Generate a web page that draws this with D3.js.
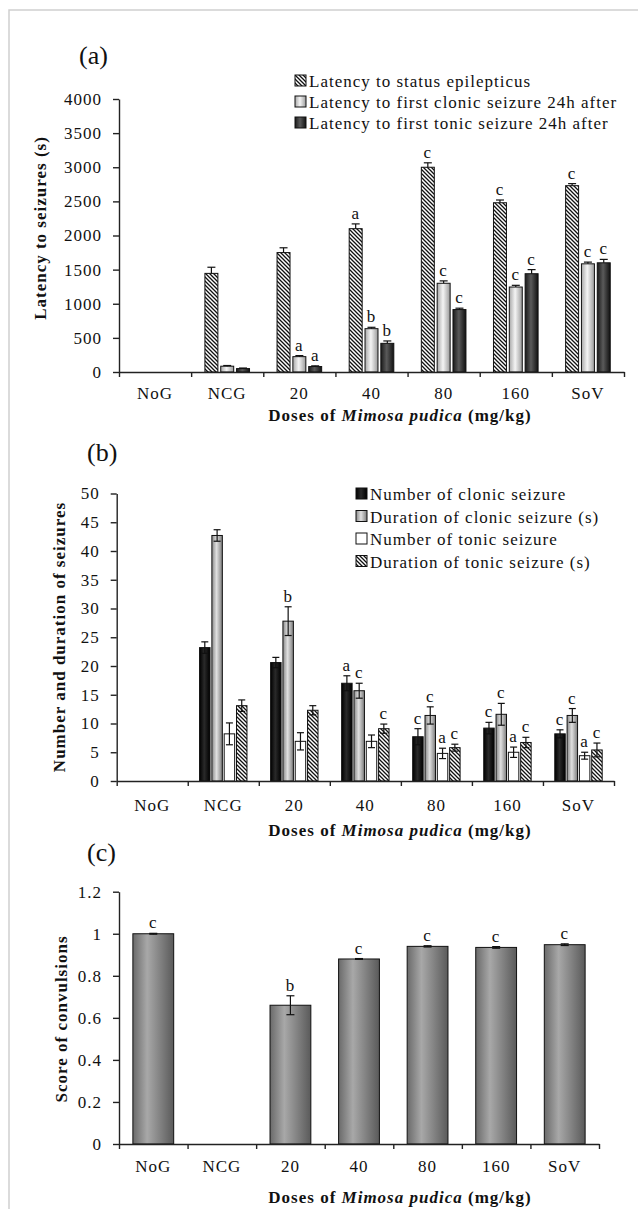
<!DOCTYPE html>
<html>
<head>
<meta charset="utf-8">
<script src="https://cdn.jsdelivr.net/npm/d3@7"></script>
<style>
  body { margin: 0; background: #fff; }
  svg text { font-family: "Liberation Serif", "Times New Roman", serif; fill: #111; }
</style>
</head>
<body>
<div id="chart"></div>
<script>
// catégories (doses)
const categories = ["NoG", "NCG", "20", "40", "80", "160", "SoV"];

// (a) latences (s)
const latencyStatus      = [null, 1445, 1750, 2100, 3000, 2480, 2730];
const latencyStatusErr   = [null, 90, 70, 70, 65, 40, 30];
const latencyStatusSig   = ["", "", "", "a", "c", "c", "c"];
const latencyClonic      = [null, 85, 225, 635, 1300, 1245, 1585];
const latencyClonicErr   = [null, 10, 15, 20, 35, 25, 25];
const latencyClonicSig   = ["", "", "a", "b", "c", "c", "c"];
const latencyTonic       = [null, 50, 80, 420, 915, 1440, 1600];
const latencyTonicErr    = [null, 8, 10, 35, 20, 60, 50];
const latencyTonicSig    = ["", "", "a", "b", "c", "c", "c"];
const latencyTicks = [0, 500, 1000, 1500, 2000, 2500, 3000, 3500, 4000];

// (b) nombre et durée des crises
const clonicNumber       = [null, 23.2, 20.6, 17.0, 7.7, 9.2, 8.2];
const clonicNumberErr    = [null, 1.0, 0.9, 1.3, 1.4, 1.0, 0.7];
const clonicNumberSig    = ["", "", "", "a", "c", "c", "c"];
const clonicDuration     = [null, 42.7, 27.8, 15.7, 11.4, 11.6, 11.4];
const clonicDurationErr  = [null, 1.0, 2.5, 1.3, 1.5, 1.9, 1.2];
const clonicDurationSig  = ["", "", "b", "c", "c", "c", "c"];
const tonicNumber        = [null, 8.2, 6.9, 6.9, 4.8, 5.0, 4.4];
const tonicNumberErr     = [null, 1.9, 1.5, 1.1, 0.9, 0.9, 0.6];
const tonicNumberSig     = ["", "", "", "", "a", "a", "a"];
const tonicDuration      = [null, 13.1, 12.3, 9.1, 5.8, 6.7, 5.4];
const tonicDurationErr   = [null, 1.0, 0.8, 0.8, 0.6, 0.9, 1.2];
const tonicDurationSig   = ["", "", "", "c", "c", "c", "c"];
const seizureTicks = [0, 5, 10, 15, 20, 25, 30, 35, 40, 45, 50];

// (c) score des convulsions
const convulsionScore    = [1.0, null, 0.66, 0.88, 0.94, 0.935, 0.948];
const convulsionScoreErr = [0.002, null, 0.045, 0.002, 0.003, 0.004, 0.004];
const convulsionScoreSig = ["c", "", "b", "c", "c", "c", "c"];
const scoreTicks = [0, 0.2, 0.4, 0.6, 0.8, 1, 1.2];

const width = 638;
const height = 1209;

const svg = d3.select("#chart").append("svg")
  .attr("width", width)
  .attr("height", height);

svg.append("rect").attr("width", width).attr("height", height).attr("fill", "#fff");

// cadre gris
svg.append("path")
  .attr("d", `M9,${height} V10 H${width}`)
  .attr("fill", "none")
  .attr("stroke", "#cfcfcf")
  .attr("stroke-width", 1.5);

const defs = svg.append("defs");

// hachures
const hatch = defs.append("pattern")
  .attr("id", "hatch")
  .attr("patternUnits", "userSpaceOnUse")
  .attr("width", 4).attr("height", 4);
hatch.append("rect").attr("width", 4).attr("height", 4).attr("fill", "#fff");
hatch.append("path")
  .attr("d", "M0,0 L4,4 M-1,3 L1,5 M3,-1 L5,1")
  .attr("stroke", "#111")
  .attr("stroke-width", 1.3);

function gradient(id, stops) {
  const lg = defs.append("linearGradient").attr("id", id)
    .attr("x1", 0).attr("x2", 1).attr("y1", 0).attr("y2", 0);
  stops.forEach(([o, c]) => lg.append("stop").attr("offset", o).attr("stop-color", c));
}
gradient("lightGrad", [[0, "#a8a8a8"], [0.45, "#f4f4f4"], [1, "#9a9a9a"]]);
gradient("darkGrad", [[0, "#1a1a1a"], [0.45, "#5a5a5a"], [1, "#111"]]);
gradient("blackGrad", [[0, "#000"], [0.45, "#2a2a2a"], [1, "#000"]]);
gradient("grayGrad", [[0, "#8a8a8a"], [0.45, "#e0e0e0"], [1, "#7c7c7c"]]);
gradient("scoreGrad", [[0, "#6a6a6a"], [0.35, "#a8a8a8"], [1, "#5a5a5a"]]);

const textStyle = sel => sel.attr("font-size", 17).attr("letter-spacing", "1px");

function drawPanel(p) {
  const g = svg.append("g");

  const x = d3.scaleBand().domain(categories).range([p.x0, p.x1]);
  const y = d3.scaleLinear().domain([0, p.yMax]).range([p.y0, p.yTop]);
  const xs = d3.scaleBand()
    .domain(d3.range(p.series.length))
    .range([0, x.bandwidth()])
    .paddingInner(p.pi)
    .paddingOuter(p.po);

  p.series.forEach((s, si) => {
    const data = categories
      .map((c, i) => ({ c, v: s.values[i], e: s.errs[i], sig: s.sig[i] }))
      .filter(d => d.v != null);
    const cx = d => x(d.c) + xs(si) + xs.bandwidth() / 2;

    g.append("g").selectAll("rect")
      .data(data)
      .join("rect")
      .attr("x", d => x(d.c) + xs(si))
      .attr("y", d => y(d.v))
      .attr("width", xs.bandwidth())
      .attr("height", d => y(0) - y(d.v))
      .attr("fill", s.fill)
      .attr("stroke", "#111")
      .attr("stroke-width", 1);

    // barres d'erreur
    const eb = g.append("g").attr("stroke", "#111").attr("stroke-width", 1.2);
    eb.selectAll("line.v")
      .data(data)
      .join("line")
      .attr("class", "v")
      .attr("x1", cx).attr("x2", cx)
      .attr("y1", d => p.errDown ? y(d.v - d.e) : y(d.v))
      .attr("y2", d => y(d.v + d.e));
    eb.selectAll("line.top")
      .data(data)
      .join("line")
      .attr("class", "top")
      .attr("x1", d => cx(d) - p.cap / 2).attr("x2", d => cx(d) + p.cap / 2)
      .attr("y1", d => y(d.v + d.e)).attr("y2", d => y(d.v + d.e));
    if (p.errDown) {
      eb.selectAll("line.bot")
        .data(data)
        .join("line")
        .attr("class", "bot")
        .attr("x1", d => cx(d) - p.cap / 2).attr("x2", d => cx(d) + p.cap / 2)
        .attr("y1", d => y(d.v - d.e)).attr("y2", d => y(d.v - d.e));
    }

    // lettres de significativité
    g.append("g").selectAll("text")
      .data(data.filter(d => d.sig))
      .join("text")
      .call(textStyle)
      .attr("x", cx)
      .attr("y", d => y(d.v + d.e) - 5)
      .attr("text-anchor", "middle")
      .text(d => d.sig);
  });

  // axe Y
  const yAxis = g.append("g")
    .attr("transform", `translate(${p.x0},0)`)
    .call(d3.axisLeft(y).tickValues(p.ticks).tickSize(6).tickSizeOuter(0).tickPadding(11).tickFormat(p.fmt));
  yAxis.attr("font-family", null).attr("font-size", null);
  yAxis.selectAll("text").call(textStyle);
  yAxis.selectAll("path, line").attr("stroke", "#222").attr("stroke-width", 1.4);

  // axe X (graduations aux limites des catégories)
  const xl = d3.scaleLinear().domain([0, categories.length]).range([p.x0, p.x1]);
  const xAxis = g.append("g")
    .attr("transform", `translate(0,${p.y0})`)
    .call(d3.axisBottom(xl).tickValues(d3.range(categories.length + 1)).tickSize(5).tickSizeOuter(0).tickFormat(""));
  xAxis.selectAll("path, line").attr("stroke", "#222").attr("stroke-width", 1.4);

  g.append("g").selectAll("text")
    .data(categories)
    .join("text")
    .call(textStyle)
    .attr("x", d => x(d) + x.bandwidth() / 2)
    .attr("y", p.catY)
    .attr("text-anchor", "middle")
    .text(d => d);

  // titres
  g.append("text")
    .attr("x", p.tagX).attr("y", p.tagY)
    .attr("font-size", 26)
    .text(p.tag);

  g.append("text")
    .call(textStyle)
    .attr("font-weight", "bold")
    .attr("text-anchor", "middle")
    .attr("transform", `translate(${p.yTitleX},${p.yTitleY}) rotate(-90)`)
    .text(p.yTitle);

  const xt = g.append("text")
    .call(textStyle)
    .attr("font-weight", "bold")
    .attr("text-anchor", "middle")
    .attr("x", 400)
    .attr("y", p.xTitleY);
  xt.append("tspan").text("Doses of ");
  xt.append("tspan").attr("font-style", "italic").text("Mimosa pudica");
  xt.append("tspan").text(" (mg/kg)");

  // légende
  if (p.legend) {
    const lg = g.append("g");
    p.series.forEach((s, i) => {
      const by = p.legend.y + i * p.legend.dy;
      lg.append("rect")
        .attr("x", p.legend.x).attr("y", by - 12)
        .attr("width", 11).attr("height", 11)
        .attr("fill", s.fill)
        .attr("stroke", "#111").attr("stroke-width", 1);
      lg.append("text")
        .call(textStyle)
        .attr("x", p.legend.x + 14).attr("y", by)
        .text(s.name);
    });
  }
}

drawPanel({
  tag: "(a)", tagX: 79, tagY: 64,
  x0: 119, x1: 624, y0: 372, yTop: 99, yMax: 4000,
  ticks: latencyTicks, fmt: d3.format("d"),
  pi: 0.18, po: 0.87, cap: 8, errDown: false,
  catY: 399, xTitleY: 421,
  yTitle: "Latency to seizures (s)", yTitleX: 46, yTitleY: 228,
  legend: { x: 295, y: 87, dy: 21 },
  series: [
    { name: "Latency to status epilepticus", values: latencyStatus, errs: latencyStatusErr, sig: latencyStatusSig, fill: "url(#hatch)" },
    { name: "Latency to first clonic seizure 24h after", values: latencyClonic, errs: latencyClonicErr, sig: latencyClonicSig, fill: "url(#lightGrad)" },
    { name: "Latency to first tonic seizure 24h after", values: latencyTonic, errs: latencyTonicErr, sig: latencyTonicSig, fill: "url(#darkGrad)" }
  ]
});

drawPanel({
  tag: "(b)", tagX: 87, tagY: 461,
  x0: 116.7, x1: 614, y0: 781, yTop: 493.5, yMax: 50,
  ticks: seizureTicks, fmt: d3.format("d"),
  pi: 0.15, po: 0.96, cap: 7, errDown: true,
  catY: 811, xTitleY: 836,
  yTitle: "Number and duration  of seizures", yTitleX: 65, yTitleY: 637,
  legend: { x: 356, y: 500, dy: 22.5 },
  series: [
    { name: "Number of clonic seizure", values: clonicNumber, errs: clonicNumberErr, sig: clonicNumberSig, fill: "url(#blackGrad)" },
    { name: "Duration of clonic seizure (s)", values: clonicDuration, errs: clonicDurationErr, sig: clonicDurationSig, fill: "url(#grayGrad)" },
    { name: "Number of tonic seizure", values: tonicNumber, errs: tonicNumberErr, sig: tonicNumberSig, fill: "#fff" },
    { name: "Duration of tonic seizure (s)", values: tonicDuration, errs: tonicDurationErr, sig: tonicDurationSig, fill: "url(#hatch)" }
  ]
});

drawPanel({
  tag: "(c)", tagX: 87, tagY: 861,
  x0: 119, x1: 599, y0: 1144, yTop: 891.7, yMax: 1.2,
  ticks: scoreTicks, fmt: d => String(Math.round(d * 10) / 10),
  pi: 0, po: 0.34, cap: 8, errDown: true,
  catY: 1172, xTitleY: 1203,
  yTitle: "Score of convulsions", yTitleX: 67, yTitleY: 1019,
  legend: null,
  series: [
    { name: "Score of convulsions", values: convulsionScore, errs: convulsionScoreErr, sig: convulsionScoreSig, fill: "url(#scoreGrad)" }
  ]
});
</script>
</body>
</html>
